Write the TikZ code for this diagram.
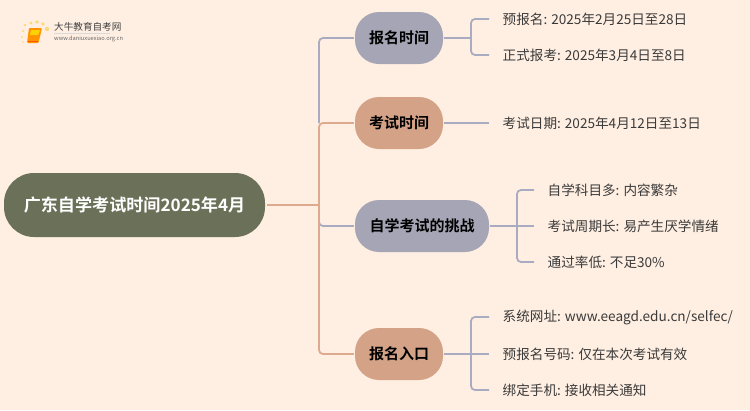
\documentclass[tikz,border=0pt]{standalone}
\usepackage{fontspec}
\setmainfont{Noto Sans CJK SC}[BoldFont={Noto Sans CJK SC Bold}]
\usetikzlibrary{calc}
\definecolor{bgc}{HTML}{FFEFE2}
\definecolor{rootc}{HTML}{6B7058}
\definecolor{grayc}{HTML}{A6A5B5}
\definecolor{orc}{HTML}{D3A287}
\definecolor{lineb}{HTML}{A9ABC0}
\definecolor{lineo}{HTML}{DDA98F}
\definecolor{txt}{HTML}{3A3A3A}
\definecolor{dotc}{HTML}{FBD87A}
\tikzset{
  x=1pt,y=-1pt,
  pill/.style={rounded corners=24pt,minimum height=52pt,inner sep=0pt,font=\bfseries\fontsize{15}{18}\selectfont,text=black,anchor=center},
  pillb/.style={pill,fill=grayc},
  pillo/.style={pill,fill=orc},
  leaf/.style={anchor=west,inner ysep=0pt,inner xsep=13.5pt,text=txt,font=\fontsize{13.6}{17}\selectfont},
  lb/.style={draw=lineb,line width=1.8pt,rounded corners=4pt},
  lo/.style={draw=lineo,line width=1.8pt,rounded corners=4pt},
}
\begin{document}
\begin{tikzpicture}
\useasboundingbox (0,0) rectangle (750,410);
\fill[bgc] (0,0) rectangle (750,410);
% logo
\foreach \a/\b/\r in {23/42/.8,22/37/1,23/31/1.2,25/25/1.4,31/23/1.7,37/22/1.8,43/24/1.9,47/29/2.2}{\fill[dotc] (\a,\b) circle (\r);}
\fill[orange!85!yellow,rounded corners=1pt] (29,28) -- (42,28) -- (38.5,43) -- (27,43) -- cycle;
\fill[yellow!70!orange] (31,30) -- (40,30) -- (38,35) -- (30,35) -- cycle;
\draw[orange!70!red,line width=.8pt] (27.5,41.5) -- (38,41.5);
\node[inner sep=0pt,anchor=west,text=black!75,font=\fontsize{9.6}{11}\selectfont] (logoa) at (54,27) {大牛教育自考网};
\node[inner sep=0pt,anchor=west,text=black!60,font=\fontsize{5.7}{7}\selectfont] (logob) at (54,38.7) {www.daniuxuexiao.org.cn};
\draw[black!15,line width=.5pt] (54,33.5) -- (110,33.5);
% nodes
\node[rounded corners=30pt,fill=rootc,minimum width=261pt,minimum height=64pt,inner sep=0pt,text=white,font=\bfseries\fontsize{17.1}{20}\selectfont] (root) at (134.5,205) {广东自学考试时间2025年4月};
\node[pillb,minimum width=88pt] (a) at (399,38) {报名时间};
\node[pillo,minimum width=88pt] (b) at (399,123) {考试时间};
\node[pillb,minimum width=134pt] (c) at (422,226) {自学考试的挑战};
\node[pillo,minimum width=88pt] (d) at (399,354) {报名入口};
\node[leaf] (a1) at (489,19) {预报名: 2025年2月25日至28日};
\node[leaf] (a2) at (489,55) {正式报考: 2025年3月4日至8日};
\node[leaf] (b1) at (489,123) {考试日期: 2025年4月12日至13日};
\node[leaf] (c1) at (534,190) {自学科目多: 内容繁杂};
\node[leaf] (c2) at (534,226) {考试周期长: 易产生厌学情绪};
\node[leaf] (c3) at (534,262) {通过率低: 不足30\%};
\node[leaf] (d1) at (489,317) {系统网址: www.eeagd.edu.cn/selfec/};
\node[leaf] (d2) at (489,354) {预报名号码: 仅在本次考试有效};
\node[leaf] (d3) at (489,390) {绑定手机: 接收相关通知};
% trunk
\coordinate (tr) at (319,205);
\draw[lb] ($(a.west)+(-1,0)$) -- (a.west -| tr) -- (b.west -| tr);
\draw[lb] ($(c.west)+(-1,0)$) -- (c.west -| tr) -- (tr);
\draw[lo] ($(b.west)+(-1,0)$) -- (b.west -| tr) -- (tr);
\draw[lo] ($(d.west)+(-1,0)$) -- (d.west -| tr) -- (tr);
\draw[lo,rounded corners=0pt] ($(root.east)+(2,0)$) -- (tr);
% leaf connectors
\coordinate (ta) at (471,38);
\draw[lb] ($(a.east)+(1,0)$) -- (ta);
\draw[lb] (a1.west) -- (a1.west -| ta) -- (a2.west -| ta) -- (a2.west);
\draw[lb] ($(b.east)+(1,0)$) -- (b1.west);
\coordinate (tc) at (517,226);
\draw[lb] ($(c.east)+(1,0)$) -- (c2.west);
\draw[lb] (c1.west) -- (c1.west -| tc) -- (c3.west -| tc) -- (c3.west);
\coordinate (td) at (471,354);
\draw[lb] ($(d.east)+(1,0)$) -- (d2.west);
\draw[lb] (d1.west) -- (d1.west -| td) -- (d3.west -| td) -- (d3.west);
\end{tikzpicture}
\end{document}
